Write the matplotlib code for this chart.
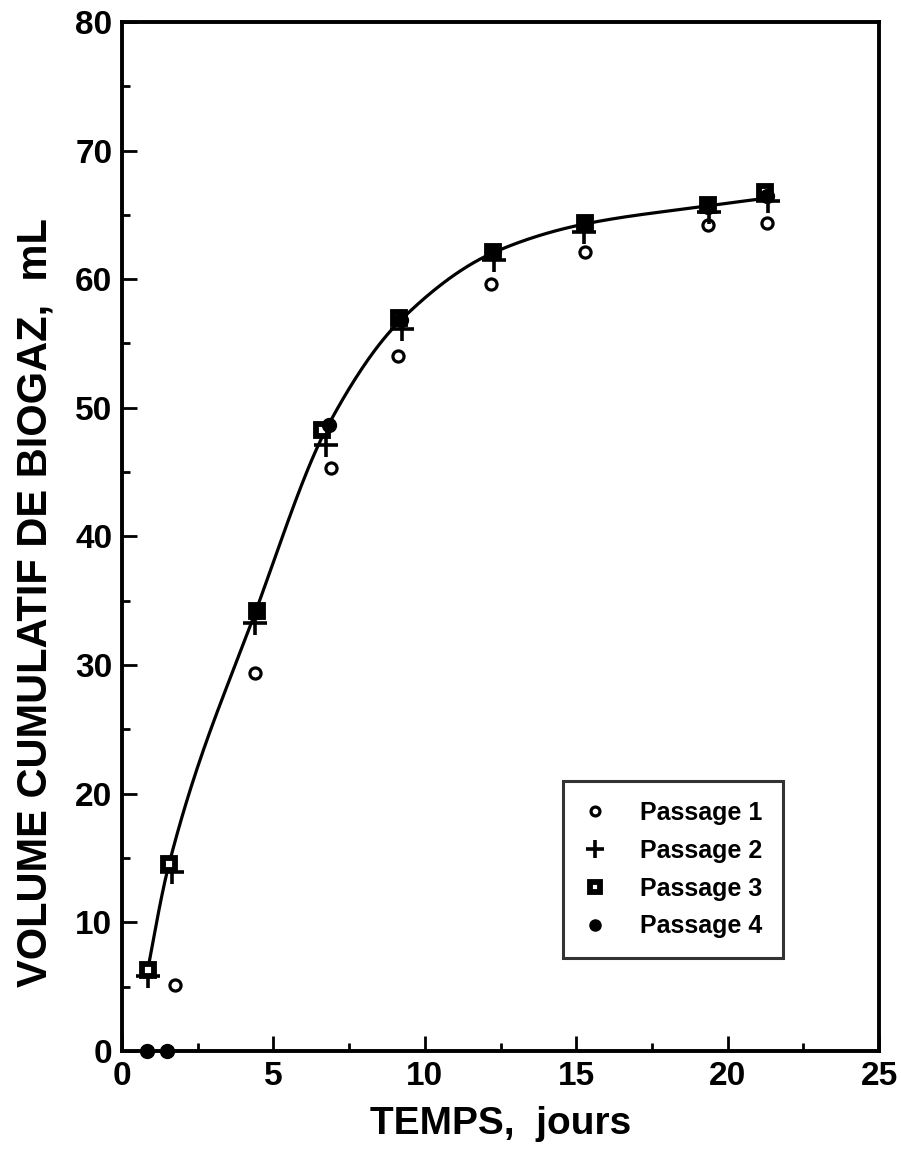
import numpy as np
import matplotlib.pyplot as plt
from matplotlib.ticker import MultipleLocator

plt.rcParams['font.family'] = ['Liberation Sans', 'DejaVu Sans']
plt.rcParams['font.weight'] = 'bold'

# Data (days, mL)
t_p1 = [1.75, 4.4, 6.9, 9.1, 12.2, 15.3, 19.35, 21.3]
v_p1 = [5.1, 29.4, 45.3, 54.0, 59.6, 62.1, 64.2, 64.4]

t_p2 = [0.85, 1.65, 4.4, 6.75, 9.25, 12.3, 15.25, 19.4, 21.35]
v_p2 = [5.8, 13.9, 33.3, 47.1, 56.1, 61.5, 63.7, 65.2, 66.1]

t_p3 = [0.85, 1.55, 4.45, 6.6, 9.15, 12.25, 15.3, 19.35, 21.25]
v_p3 = [6.3, 14.5, 34.2, 48.3, 57.0, 62.1, 64.4, 65.8, 66.8]

t_p4 = [0.83, 1.49, 4.45, 6.85, 9.2, 12.3, 15.3, 19.35, 21.3]
v_p4 = [0.0, 0.0, 34.1, 48.7, 56.8, 62.2, 64.3, 65.6, 66.5]

# knots of the smooth curve drawn through the data
t_fit = [0.85, 1.55, 4.45, 6.8, 9.2, 12.3, 15.3, 19.35, 21.3]
v_fit = [6.3, 14.5, 34.4, 48.6, 56.8, 62.1, 64.3, 65.7, 66.3]


def pchip(x, y, xs):
    """Shape-preserving cubic Hermite interpolation (Fritsch-Carlson)"""
    x = np.asarray(x, float)
    y = np.asarray(y, float)
    h = np.diff(x)
    delta = np.diff(y) / h
    n = len(x)
    d = np.zeros(n)
    for k in range(1, n - 1):
        if delta[k - 1] * delta[k] > 0:
            w1 = 2 * h[k] + h[k - 1]
            w2 = h[k] + 2 * h[k - 1]
            d[k] = (w1 + w2) / (w1 / delta[k - 1] + w2 / delta[k])
    d[0] = ((2 * h[0] + h[1]) * delta[0] - h[0] * delta[1]) / (h[0] + h[1])
    d[-1] = ((2 * h[-1] + h[-2]) * delta[-1] - h[-1] * delta[-2]) / (h[-1] + h[-2])
    idx = np.clip(np.searchsorted(x, xs) - 1, 0, n - 2)
    s = (xs - x[idx]) / h[idx]
    h00 = 2 * s ** 3 - 3 * s ** 2 + 1
    h10 = s ** 3 - 2 * s ** 2 + s
    h01 = -2 * s ** 3 + 3 * s ** 2
    h11 = s ** 3 - s ** 2
    return (h00 * y[idx] + h10 * h[idx] * d[idx] + h01 * y[idx + 1]
            + h11 * h[idx] * d[idx + 1])


fig = plt.figure(figsize=(9.01, 11.53), dpi=100)
ax = fig.add_axes([0.1354, 0.0885, 0.8402, 0.8925])

xs = np.linspace(t_fit[0], t_fit[-1], 400)
ax.plot(xs, pchip(t_fit, v_fit, xs), color='black', linewidth=2.3, zorder=2)

ax.plot(t_p1, v_p1, 'o', markersize=8, markerfacecolor='white',
        markeredgecolor='black', markeredgewidth=2.3, linestyle='none',
        label='Passage 1', zorder=3)
ax.plot(t_p2, v_p2, '+', markersize=17, markeredgewidth=2.6, color='black',
        linestyle='none', label='Passage 2', zorder=3)
ax.plot(t_p3, v_p3, 's', markersize=9, markerfacecolor='white',
        markeredgecolor='black', markeredgewidth=4.2, linestyle='none',
        label='Passage 3', zorder=4)
ax.plot(t_p4, v_p4, 'o', markersize=10, color='black', linestyle='none',
        label='Passage 4', zorder=4, clip_on=False)

ax.set_xlim(0, 25)
ax.set_ylim(0, 80)
ax.xaxis.set_major_locator(MultipleLocator(5))
ax.xaxis.set_minor_locator(MultipleLocator(2.5))
ax.yaxis.set_major_locator(MultipleLocator(10))
ax.yaxis.set_minor_locator(MultipleLocator(5))
ax.tick_params(which='both', direction='in', width=2, top=False, right=False)
ax.tick_params(which='major', length=11, labelsize=24, pad=7)
ax.tick_params(which='minor', length=6)
for lab in ax.get_xticklabels() + ax.get_yticklabels():
    lab.set_fontweight('bold')
for s in ax.spines.values():
    s.set_linewidth(2.8)

ax.set_xlabel('TEMPS,  jours', fontsize=28, fontweight='bold', labelpad=10)
ax.set_ylabel('VOLUME CUMULATIF DE BIOGAZ,  mL', fontsize=30, fontweight='bold')
ax.yaxis.set_label_coords(-0.088, 0.436)

leg = ax.legend(loc='lower right', bbox_to_anchor=(0.873, 0.09), borderaxespad=0,
                frameon=True, fancybox=False, edgecolor='black', fontsize=18,
                handlelength=1.0, handletextpad=1.3, borderpad=0.8,
                labelspacing=0.55, markerscale=0.8)
leg.get_frame().set_linewidth(2.2)
for txt in leg.get_texts():
    txt.set_fontweight('bold')

fig.savefig('out.png', dpi=100)
